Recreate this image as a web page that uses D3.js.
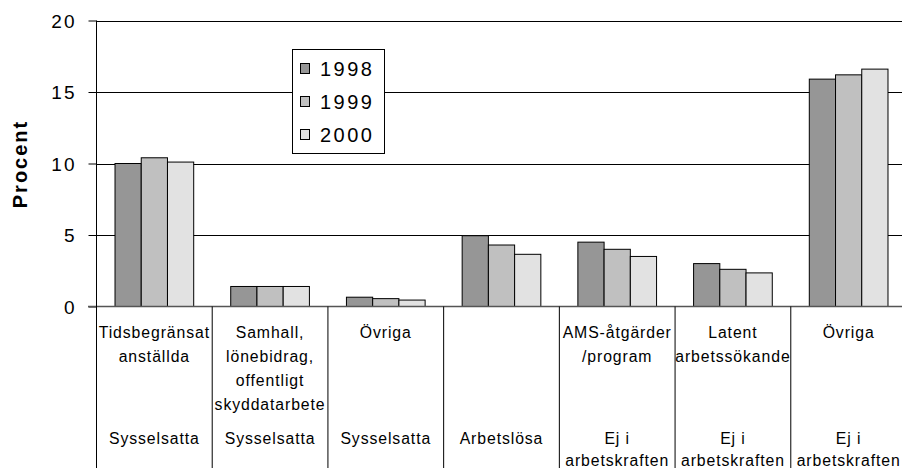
<!DOCTYPE html>
<html><head><meta charset="utf-8">
<script src="https://cdn.jsdelivr.net/npm/d3@7"></script>
<style>
html,body{margin:0;padding:0;background:#fff;}
svg{display:block;font-family:"Liberation Sans",Arial,Helvetica,sans-serif;}
</style></head>
<body><svg id="chart" width="902" height="468"></svg>
<script>
const categories = ["Tidsbegränsat\nanställda","Samhall,\nlönebidrag,\noffentligt\nskyddatarbete","Övriga","","AMS-åtgärder\n/program","Latent\narbetssökande","Övriga"];
const groups = ["Sysselsatta","Sysselsatta","Sysselsatta","Arbetslösa","Ej i\narbetskraften","Ej i\narbetskraften","Ej i\narbetskraften"];
const seriesNames = ["1998","1999","2000"];
const values1998 = [10.0, 1.4, 0.65, 4.95, 4.5, 3.0, 15.9];
const values1999 = [10.4, 1.4, 0.55, 4.3, 4.0, 2.6, 16.2];
const values2000 = [10.1, 1.4, 0.45, 3.65, 3.5, 2.35, 16.6];
const yTicks = [0, 5, 10, 15, 20];
const colors = ["#969696","#c0c0c0","#e2e2e2"];

(function(){
const series = [values1998, values1999, values2000];
const svg = d3.select("#chart");
const pLeft = 96.5, pRight = 906.5, base = 306.5, pTop = 20.5;

const y = d3.scaleLinear().domain([0,20]).range([base, pTop]);
const x0 = d3.scaleBand().domain(d3.range(categories.length)).range([pLeft, pRight]).padding(0);
const bw = x0.bandwidth();
const x1 = d3.scaleBand().domain(d3.range(seriesNames.length)).range([bw*0.16, bw*0.84]).padding(0);

// gridlines
svg.append("g").selectAll("line").data(yTicks.filter(d=>d>0)).join("line")
  .attr("x1", pLeft).attr("x2", 902)
  .attr("y1", d=>Math.round(y(d))+0.5).attr("y2", d=>Math.round(y(d))+0.5)
  .attr("stroke","#000").attr("stroke-width",1);

// y axis with D3
const yAxis = d3.axisLeft(y).tickValues(yTicks).tickSize(8).tickPadding(12).tickFormat(d3.format("d"));
const ga = svg.append("g").attr("transform",`translate(${pLeft},0)`).call(yAxis);
ga.select(".domain").remove();
ga.selectAll(".tick line").attr("stroke","#000");
ga.selectAll(".tick text").attr("font-size",19).attr("letter-spacing","2px")
  .attr("font-family","Liberation Sans, Arial, sans-serif").attr("fill","#000").attr("dy","0.35em");

// bars
const gBars = svg.append("g");
categories.forEach((c,i)=>{
  series.forEach((s,j)=>{
    gBars.append("rect")
      .attr("x", x0(i)+x1(j))
      .attr("y", y(s[i]))
      .attr("width", x1.bandwidth())
      .attr("height", base - y(s[i]))
      .attr("fill", colors[j]).attr("stroke","#000").attr("stroke-width",1);
  });
});

// baseline
svg.append("line").attr("x1",88).attr("x2",902).attr("y1",base).attr("y2",base)
  .attr("stroke","#555").attr("stroke-width",1.5);
// y axis line
svg.append("line").attr("x1",pLeft).attr("x2",pLeft).attr("y1",pTop).attr("y2",468)
  .attr("stroke","#000").attr("stroke-width",1);
// category separators
svg.append("g").selectAll("line").data(d3.range(1,categories.length)).join("line")
  .attr("x1",d=>x0(d)).attr("x2",d=>x0(d)).attr("y1",base).attr("y2",468)
  .attr("stroke","#000").attr("stroke-width",1);

// category labels
const gl = svg.append("g").attr("font-size",15.8).attr("letter-spacing","0.9px").attr("text-anchor","middle").attr("fill","#000");
categories.forEach((c,i)=>{
  const cx = x0(i)+bw/2;
  c.split("\n").forEach((line,k)=>{
    if(line) gl.append("text").attr("x",cx).attr("y",337.5+k*24).text(line);
  });
  groups[i].split("\n").forEach((line,k)=>{
    gl.append("text").attr("x",cx).attr("y",443.5+k*22.5).text(line);
  });
});

// y label
svg.append("text").attr("transform","translate(27,164) rotate(-90)")
  .attr("text-anchor","middle").attr("font-size",20).attr("font-weight","bold")
  .attr("letter-spacing","2px").text("Procent");

// legend
const lg = svg.append("g");
lg.append("rect").attr("x",292.5).attr("y",49.5).attr("width",92).attr("height",104)
  .attr("fill","#fff").attr("stroke","#000").attr("stroke-width",1);
seriesNames.forEach((n,j)=>{
  const cy = 68.5 + j*33;
  lg.append("rect").attr("x",300.5).attr("y",cy-5).attr("width",9).attr("height",10)
    .attr("fill",colors[j]).attr("stroke","#000").attr("stroke-width",1);
  lg.append("text").attr("x",320).attr("y",cy).attr("dy","0.36em")
    .attr("font-size",20).attr("letter-spacing","2.5px").text(n);
});
})();
</script></body></html>
